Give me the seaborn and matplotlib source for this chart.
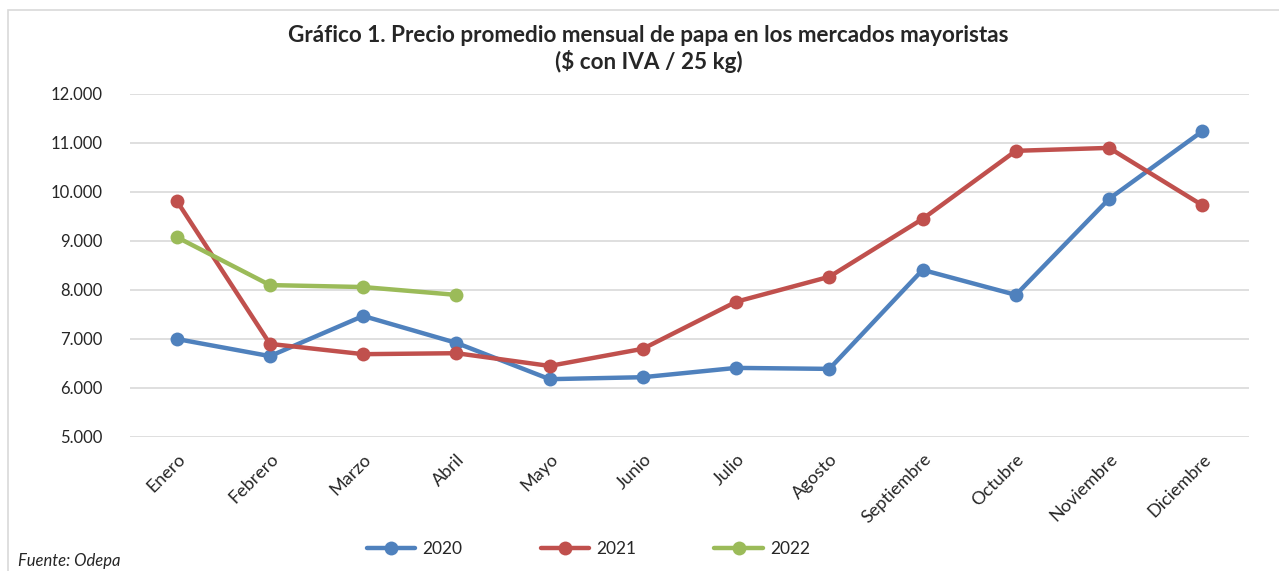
import pandas as pd
import numpy as np
import matplotlib.pyplot as plt
import matplotlib.ticker as mticker
from matplotlib.patches import Rectangle
import seaborn as sns

sns.set_style("white")
plt.rcParams['font.family'] = ['Lato', 'DejaVu Sans']

meses = ['Enero', 'Febrero', 'Marzo', 'Abril', 'Mayo', 'Junio', 'Julio',
         'Agosto', 'Septiembre', 'Octubre', 'Noviembre', 'Diciembre']
precio_2020 = [7000, 6650, 7470, 6920, 6180, 6220, 6410, 6390, 8410, 7900, 9860, 11240]
precio_2021 = [9820, 6900, 6690, 6710, 6450, 6800, 7760, 8270, 9450, 10840, 10900, 9730]
precio_2022 = [9080, 8100, 8060, 7900]
colores = {'2020': '#4F81BD', '2021': '#C0504D', '2022': '#9BBB59'}

df = pd.concat([
    pd.DataFrame({'Mes': meses, 'Año': '2020', 'Precio': precio_2020}),
    pd.DataFrame({'Mes': meses, 'Año': '2021', 'Precio': precio_2021}),
    pd.DataFrame({'Mes': meses[:4], 'Año': '2022', 'Precio': precio_2022}),
])
df['x'] = df['Mes'].map({m: i for i, m in enumerate(meses)})

fig = plt.figure(figsize=(12.79, 5.71), dpi=100)
fig.patches.append(Rectangle((8 / 1279, -0.1), 1.2, 1.1 - 10 / 571,
                             transform=fig.transFigure, fill=False,
                             edgecolor='#d9d9d9', linewidth=1.2))
ax = fig.add_axes([0.1017, 0.2347, 0.8748, 0.6007])

sns.lineplot(data=df, x='x', y='Precio', hue='Año', palette=colores,
             marker='o', markersize=10, markeredgewidth=0, linewidth=3.2,
             sort=False, ax=ax, legend=False)

ax.set_xlim(-0.5, 11.5)
ax.set_ylim(5000, 12000)
ax.yaxis.set_major_locator(mticker.MultipleLocator(1000))
ax.yaxis.set_major_formatter(mticker.FuncFormatter(lambda v, p: f"{v:,.0f}".replace(",", ".")))
ax.set_xticks(range(12))
ax.set_xticklabels(meses, rotation=45, ha='right', rotation_mode='anchor')
ax.tick_params(axis='both', labelsize=12, length=0)
ax.tick_params(axis='x', labelsize=13, pad=10)
ax.tick_params(axis='y', pad=20)
ax.grid(axis='y', color='#d9d9d9', linewidth=1.2)
ax.set_axisbelow(True)
for s in ax.spines.values():
    s.set_visible(False)
ax.set_xlabel('')
ax.set_ylabel('')

fig.text(0.507, 0.914, 'Gráfico 1. Precio promedio mensual de papa en los mercados mayoristas\n($ con IVA / 25 kg)',
         ha='center', va='center', fontsize=16.2, fontweight='bold', linespacing=1.25)

handles = [plt.Line2D([], [], color=c, marker='o', markersize=10, linewidth=3.2,
                      markeredgewidth=0) for c in colores.values()]
fig.legend(handles, list(colores.keys()), loc='center', bbox_to_anchor=(0.46, 0.039),
           ncol=3, frameon=False, fontsize=12.5, handlelength=2.8, columnspacing=4.5,
           handletextpad=0.4)

fig.text(0.014, 0.003, 'Fuente: Odepa', ha='left', va='bottom', fontsize=12, style='italic')

fig.savefig('out.png', dpi=100)
